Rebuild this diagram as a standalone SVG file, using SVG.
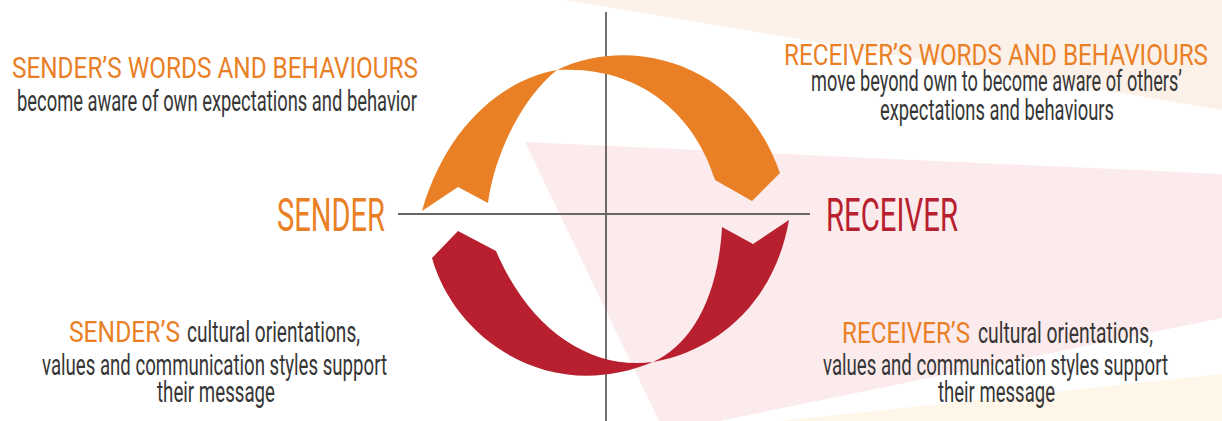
<svg xmlns="http://www.w3.org/2000/svg" width="1222" height="421" viewBox="0 0 1222 421">
  <style>
    .t { font-family: Roboto, "Liberation Sans", sans-serif; }
    .head { fill: #ea8026; font-size: 30px; }
    .body { fill: #363636; font-size: 29px; }
    .big { font-size: 47px; }
    .orange { fill: #ea8026; }
    .red { fill: #b8202f; }
  </style>

  <!-- background tints -->
  <g id="background">
    <rect x="0" y="0" width="1222" height="421" fill="#ffffff"/>
    <polygon points="565,0 1222,0 1222,110" fill="#fcf1e8"/>
    <polygon points="525,142 1222,174 1222,318 700,425 661,425" fill="#fcebec"/>
    <polygon points="780,421 1222,374 1222,421" fill="#fef7e9"/>
  </g>

  <!-- axes -->
  <g id="axes">
    <line x1="606" y1="12" x2="606" y2="421" stroke="#111" stroke-width="1.2"/>
    <line x1="398" y1="214" x2="810" y2="214" stroke="#666" stroke-width="1.8"/>
  </g>

  <!-- circular flow arrows -->
  <g id="connectors">
    <path id="arrow-sender-to-receiver" class="orange"
      d="M422,211 C445,130 500,80 557,70 C630,35 740,60 780,173 L752,201 L715,180 C695,115 640,65 557,70 C525,95 495,150 488,203 L458,187 Z"/>
    <path id="arrow-receiver-to-sender" class="red"
      d="M432,258 C455,340 550,405 653,362 C720,350 775,300 789,220 L753,244 L722,227 C718,300 690,345 653,362 C590,370 530,330 496,251 L458,231 Z"/>
  </g>

  <g id="sender">
    <text class="t big orange" x="277" y="231" textLength="108" lengthAdjust="spacingAndGlyphs">SENDER</text>
  </g>

  <g id="receiver">
    <text class="t big red" x="826" y="231" textLength="132" lengthAdjust="spacingAndGlyphs">RECEIVER</text>
  </g>

  <g id="sender-words">
    <text class="t head" x="12" y="78" textLength="406" lengthAdjust="spacingAndGlyphs">SENDER’S WORDS AND BEHAVIOURS</text>
    <text class="t body" x="17" y="111" textLength="400" lengthAdjust="spacingAndGlyphs">become aware of own expectations and behavior</text>
  </g>

  <g id="receiver-words">
    <text class="t head" x="784" y="65" textLength="424" lengthAdjust="spacingAndGlyphs">RECEIVER’S WORDS AND BEHAVIOURS</text>
    <text class="t body" x="811" y="91" textLength="371" lengthAdjust="spacingAndGlyphs">move beyond own to become aware of others’</text>
    <text class="t body" x="880" y="120" textLength="234" lengthAdjust="spacingAndGlyphs">expectations and behaviours</text>
  </g>

  <g id="sender-culture">
    <text class="t head" x="69" y="342" textLength="111" lengthAdjust="spacingAndGlyphs">SENDER’S</text>
    <text class="t body" x="187" y="342" textLength="173" lengthAdjust="spacingAndGlyphs">cultural orientations,</text>
    <text class="t body" x="42" y="375" textLength="345" lengthAdjust="spacingAndGlyphs">values and communication styles support</text>
    <text class="t body" x="157" y="402" textLength="118" lengthAdjust="spacingAndGlyphs">their message</text>
  </g>

  <g id="receiver-culture">
    <text class="t head" x="842" y="343" textLength="128" lengthAdjust="spacingAndGlyphs">RECEIVER’S</text>
    <text class="t body" x="978" y="343" textLength="175" lengthAdjust="spacingAndGlyphs">cultural orientations,</text>
    <text class="t body" x="823" y="375" textLength="345" lengthAdjust="spacingAndGlyphs">values and communication styles support</text>
    <text class="t body" x="938" y="402" textLength="117" lengthAdjust="spacingAndGlyphs">their message</text>
  </g>
</svg>
